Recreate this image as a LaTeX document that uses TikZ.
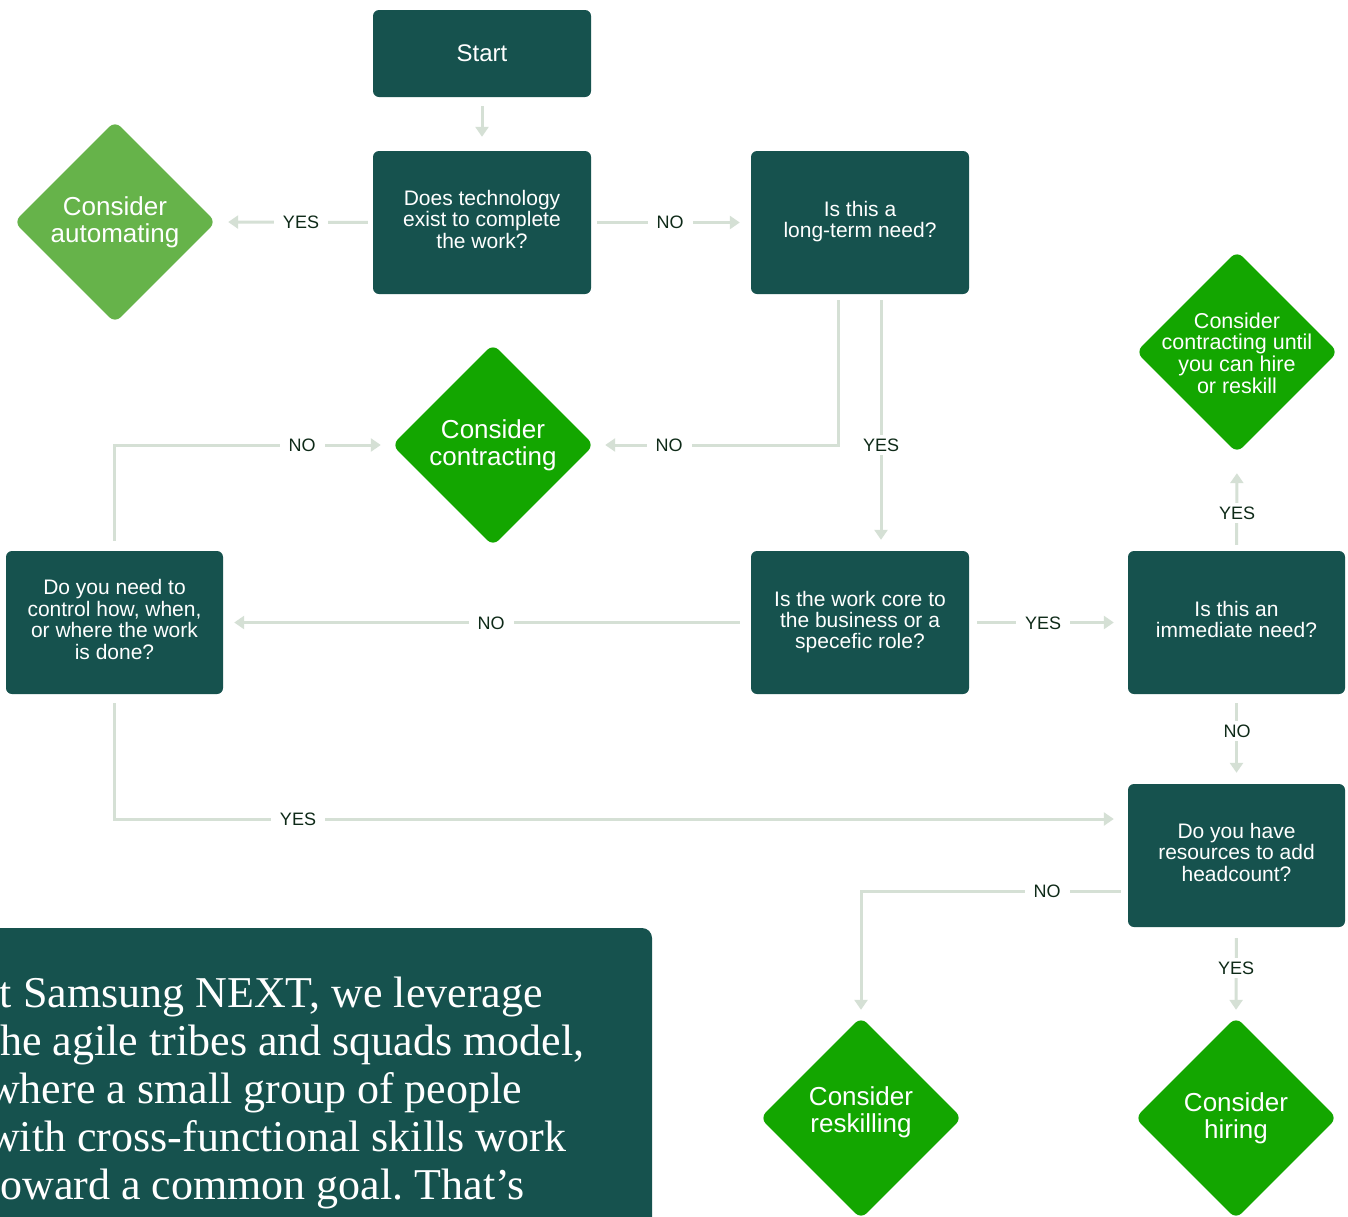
\documentclass[tikz,border=0pt]{standalone}
\usepackage{fontspec}
\setmainfont{Liberation Sans}
\newfontfamily\quoteserif{Liberation Serif}
\usetikzlibrary{arrows.meta,shapes.geometric}
\definecolor{boxteal}{HTML}{16524E}
\definecolor{autog}{HTML}{66B34A}
\definecolor{brightg}{HTML}{13A600}
\definecolor{connc}{HTML}{D5E0D5}
\definecolor{lblc}{HTML}{0E2A18}
\frenchspacing
\begin{document}
\begin{tikzpicture}[x=1pt,y=-1pt,
  box/.style={rectangle, rounded corners=6pt, fill=boxteal, text=white,
    minimum width=218pt, minimum height=143pt, align=center, inner sep=0pt,
    font=\fontsize{21}{21}\selectfont},
  dia/.style={diamond, minimum width=202pt, minimum height=202pt, inner sep=0pt,
    rounded corners=8pt},
  dtext/.style={text=white, align=center, font=\fontsize{26}{27}\selectfont},
  dtextsmall/.style={text=white, align=center, font=\fontsize{21.5}{21.7}\selectfont},
  conn/.style={draw=connc, line width=3pt, -{Triangle[width=13pt,length=10pt]}},
  lbl/.style={fill=white, text=lblc, font=\fontsize{18}{18}\selectfont,
    inner xsep=9pt, inner ysep=4pt}]
\clip (0,0) rectangle (1348,1216);
\fill[white] (0,0) rectangle (1348,1216);

% decision and process boxes
\node[box, minimum height=87pt, font=\fontsize{24}{24}\selectfont] (start) at (482,53.5) {Start};
\node[box] (tech) at (482,222.5) {\raisebox{3pt}{\begin{tabular}{@{}c@{}}Does technology\\exist to complete\\the work?\end{tabular}}};
\node[box] (longterm) at (860,222.5) {\raisebox{3pt}{\begin{tabular}{@{}c@{}}Is this a\\long-term need?\end{tabular}}};
\node[box, minimum width=217pt] (control) at (114.5,622.5) {\raisebox{1pt}{\begin{tabular}{@{}c@{}}Do you need to\\control how, when,\\or where the work\\is done?\end{tabular}}};
\node[box] (core) at (860,622.5) {Is the work core to\\the business or a\\specefic role?};
\node[box, minimum width=217pt] (immediate) at (1236.5,622.5) {\raisebox{3pt}{\begin{tabular}{@{}c@{}}Is this an\\immediate need?\end{tabular}}};
\node[box, minimum width=217pt] (resources) at (1236.5,855.5) {\raisebox{3pt}{\begin{tabular}{@{}c@{}}Do you have\\resources to add\\headcount?\end{tabular}}};

% outcome diamonds
\node[dia, fill=autog, label={[dtext]center:{Consider\\automating}}] (automating) at (115,222) {};
\node[dia, fill=brightg, label={[dtext]center:{Consider\\contracting}}] (contracting) at (493,445) {};
\node[dia, fill=brightg, label={[dtextsmall, yshift=-1pt]center:{Consider\\contracting until\\you can hire\\or reskill}}] (until) at (1237,352) {};
\node[dia, fill=brightg, label={[dtext, yshift=6pt]center:{Consider\\reskilling}}] (reskilling) at (861,1118) {};
\node[dia, fill=brightg, label={[dtext]center:{Consider\\hiring}}] (hiring) at (1236,1118) {};

% connectors
\draw[conn, shorten <=9pt, shorten >=14pt] (start.south) -- (tech.north);
\draw[conn, shorten <=5pt, shorten >=12pt] (tech.west) -- (automating.east);
\draw[conn, shorten <=6pt, shorten >=11pt] (tech.east) -- (longterm.west);
\draw[conn, shorten <=6pt, shorten >=11pt] ([xshift=-22pt]longterm.south) |- (contracting.east);
\draw[conn, shorten <=6pt, shorten >=11pt] ([xshift=21pt]longterm.south) -- ([xshift=21pt]core.north);
\draw[conn, shorten <=10pt, shorten >=11pt] (control.north) |- (contracting.west);
\draw[conn, shorten <=11pt, shorten >=11pt] (core.west) -- (control.east);
\draw[conn, shorten <=8pt, shorten >=14pt] (core.east) -- (immediate.west);
\draw[conn, shorten <=6pt, shorten >=20pt] (immediate.north) -- (until.south);
\draw[conn, shorten <=9pt, shorten >=11pt] (immediate.south) -- (resources.north);
\draw[conn, shorten <=9pt, shorten >=14pt] (control.south) |- ([yshift=36.5pt]resources.west);
\draw[conn, shorten <=7pt, shorten >=7pt] ([yshift=-35.5pt]resources.west) -| (reskilling.north);
\draw[conn, shorten <=11pt, shorten >=7pt] (resources.south) -- (hiring.north);

% connector labels
\node[lbl] (l1) at (301,222) {YES};
\node[lbl] (l2) at (670,222) {NO};
\node[lbl] (l3) at (669,445) {NO};
\node[lbl] (l4) at (881,445) {YES};
\node[lbl] (l5) at (302,445) {NO};
\node[lbl] (l6) at (491,623) {NO};
\node[lbl] (l7) at (1043,623) {YES};
\node[lbl] (l8) at (1237,513) {YES};
\node[lbl] (l9) at (1237,731) {NO};
\node[lbl] (l10) at (298,819) {YES};
\node[lbl] (l11) at (1047,891) {NO};
\node[lbl] (l12) at (1236,968) {YES};

% quote panel
\fill[boxteal, rounded corners=10pt] (-30,928) rectangle (652,1260);
\node[anchor=north west, inner sep=0pt, text=white, align=left,
  font=\quoteserif\fontsize{44}{48}\selectfont] (quote) at (-12,977)
  {\hspace*{-20pt}At Samsung NEXT, we leverage\\the agile tribes and squads model,\\where a small group of people\\with cross-functional skills work\\toward a common goal. That’s};
\end{tikzpicture}
\end{document}
